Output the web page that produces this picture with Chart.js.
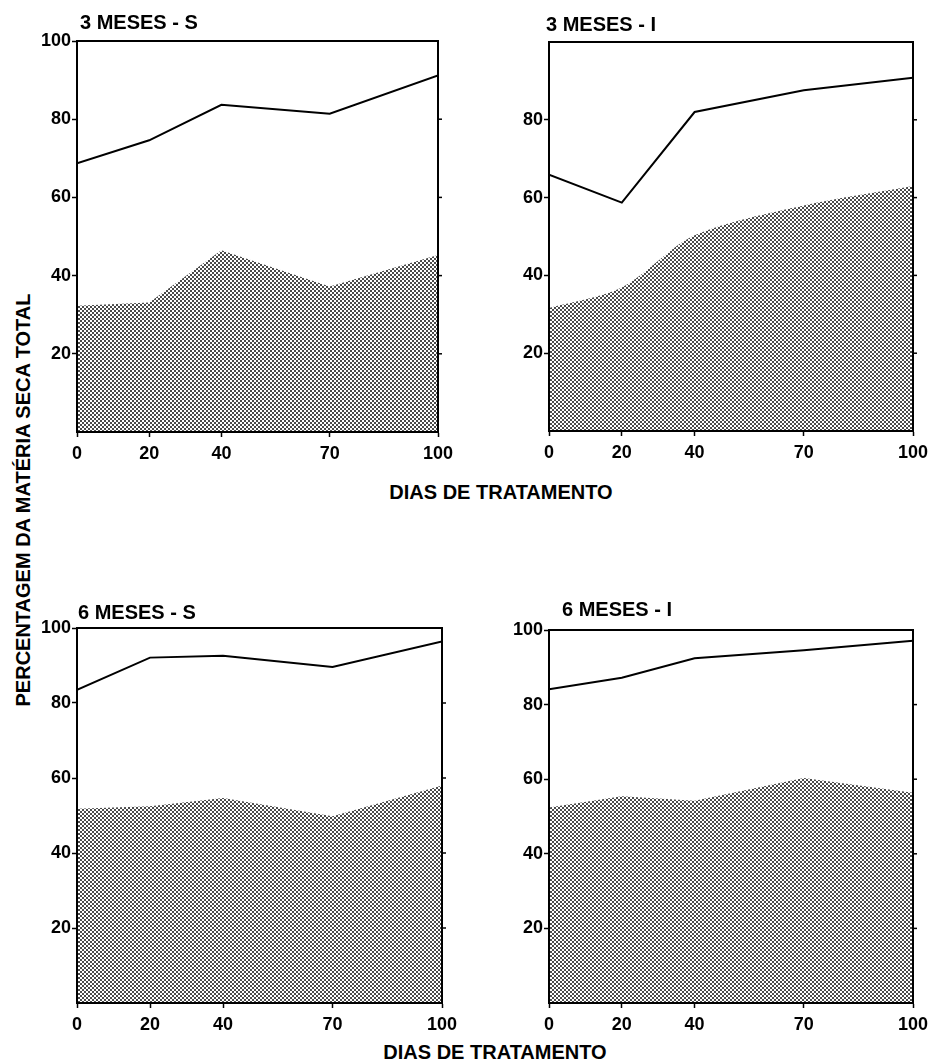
<!DOCTYPE html>
<html>
<head>
<meta charset="utf-8">
<script src="https://cdn.jsdelivr.net/npm/chart.js@4.4.0/dist/chart.umd.min.js"></script>
<style>
  html, body { margin: 0; padding: 0; background: #fff; }
  body { width: 929px; height: 1061px; position: relative; overflow: hidden;
         font-family: "Liberation Sans", Arial, sans-serif; }
  canvas { position: absolute; }
  .lbl { position: absolute; font-weight: bold; font-size: 20px; line-height: 20px;
         color: #000; white-space: nowrap; text-align: center; width: 500px; }
  #yTitle { left: -227px; top: 490px; transform: rotate(-90deg); }
</style>
</head>
<body>
<div class="lbl" id="yTitle">PERCENTAGEM DA MATÉRIA SECA TOTAL</div>
<div class="lbl" style="left:251px; top:482px;">DIAS DE TRATAMENTO</div>
<div class="lbl" style="left:245px; top:1042px;">DIAS DE TRATAMENTO</div>

<script>
// days of treatment and axis ticks
const days = [0, 20, 40, 70, 100];
const xTickValues = [0, 20, 40, 70, 100];
const yTickValues = [20, 40, 60, 80, 100];
const yTickValuesNoTop = [20, 40, 60, 80];

// % of total dry matter: upper line and shaded part, per age / treatment
const total3S = [68.7, 74.6, 83.7, 81.4, 91.2];
const part3S  = [32.3, 33.1, 46.5, 37.2, 45.3];
const total3I = [65.9, 58.7, 82.0, 87.6, 90.8];
const part3I  = [31.6, 36.9, 50.3, 58.0, 63.0];
const total6S = [83.5, 92.1, 92.6, 89.6, 96.4];
const part6S  = [51.8, 52.5, 54.7, 49.8, 58.0];
const total6I = [84.1, 87.2, 92.4, 94.6, 97.1];
const part6I  = [52.4, 55.4, 54.2, 60.3, 56.4];

const panelTitles = ['3 MESES - S', '3 MESES - I', '6 MESES - S', '6 MESES - I'];

const FONT = '"Liberation Sans", Arial, sans-serif';

// plot rectangles on the page: [left, top, width, height], title position
const panels = [
  { title: panelTitles[0], total: total3S, part: part3S, yTicks: yTickValues,      plot: [77, 41, 361, 391], titleAt: [80, 23] },
  { title: panelTitles[1], total: total3I, part: part3I, yTicks: yTickValuesNoTop, plot: [549, 42, 364, 389], titleAt: [546, 25], smooth: true },
  { title: panelTitles[2], total: total6S, part: part6S, yTicks: yTickValues,      plot: [77, 628, 365, 375], titleAt: [78, 613] },
  { title: panelTitles[3], total: total6I, part: part6I, yTicks: yTickValues,      plot: [549, 630, 364, 373], titleAt: [562, 610] }
];

const AXIS_W = 77, AXIS_H = 44, PAD_TOP = 41, PAD_RIGHT = 27;

// fine dot screen for the shaded area
function stipple() {
  const c = document.createElement('canvas');
  c.width = 4; c.height = 4;
  const g = c.getContext('2d');
  g.fillStyle = '#fff';
  g.fillRect(0, 0, 4, 4);
  g.fillStyle = '#4a4a4a';
  g.fillRect(0, 0, 2, 2);
  g.fillRect(2, 2, 2, 2);
  return g.createPattern(c, 'repeat');
}

// box around the plot, small ticks on the right edge, panel title
const framePlugin = {
  id: 'frame',
  afterDraw(chart, args, opts) {
    const { ctx, chartArea: a } = chart;
    const y = chart.scales.y;
    ctx.save();
    ctx.strokeStyle = '#000';
    ctx.lineWidth = 2;
    ctx.strokeRect(a.left, a.top, a.right - a.left, a.bottom - a.top);
    ctx.lineWidth = 1.5;
    opts.rightTicks.forEach(v => {
      const py = y.getPixelForValue(v);
      ctx.beginPath();
      ctx.moveTo(a.right, py);
      ctx.lineTo(a.right + 4, py);
      ctx.stroke();
    });
    ctx.fillStyle = '#000';
    ctx.font = 'bold 20px ' + FONT;
    ctx.textBaseline = 'middle';
    ctx.textAlign = 'left';
    ctx.fillText(opts.title, a.left + opts.dx, a.top + opts.dy);
    ctx.restore();
  }
};

panels.forEach(p => {
  const [left, top, w, h] = p.plot;
  const canvas = document.createElement('canvas');
  canvas.width = w + AXIS_W + PAD_RIGHT;
  canvas.height = h + PAD_TOP + AXIS_H;
  canvas.style.left = (left - AXIS_W) + 'px';
  canvas.style.top = (top - PAD_TOP) + 'px';
  document.body.appendChild(canvas);

  new Chart(canvas.getContext('2d'), {
    type: 'line',
    data: {
      datasets: [
        {
          data: days.map((d, i) => ({ x: d, y: p.total[i] })),
          borderColor: '#000',
          borderWidth: 2,
          pointRadius: 0,
          fill: false,
          tension: 0
        },
        {
          data: days.map((d, i) => ({ x: d, y: p.part[i] })),
          borderWidth: 0,
          borderColor: 'rgba(0,0,0,0)',
          backgroundColor: stipple(),
          pointRadius: 0,
          fill: 'origin',
          tension: p.smooth ? 0.3 : 0
        }
      ]
    },
    options: {
      responsive: false,
      animation: false,
      layout: { padding: { top: PAD_TOP, right: PAD_RIGHT, left: 0, bottom: 0 } },
      plugins: {
        legend: { display: false },
        tooltip: { enabled: false },
        frame: {
          title: p.title,
          dx: p.titleAt[0] - left,
          dy: p.titleAt[1] - top,
          rightTicks: yTickValuesNoTop
        }
      },
      scales: {
        x: {
          type: 'linear',
          min: 0,
          max: 100,
          afterBuildTicks: s => { s.ticks = xTickValues.map(v => ({ value: v })); },
          afterFit: s => { s.height = AXIS_H; },
          grid: { drawOnChartArea: false, drawTicks: true, tickLength: 5, tickWidth: 1.5, tickColor: '#000' },
          border: { display: true, color: '#000', width: 2 },
          ticks: { color: '#000', padding: 6, maxRotation: 0, font: { family: FONT, size: 18, weight: 'bold' } }
        },
        y: {
          min: 0,
          max: 100,
          afterBuildTicks: s => { s.ticks = p.yTicks.map(v => ({ value: v })); },
          afterFit: s => { s.width = AXIS_W; },
          grid: { drawOnChartArea: false, drawTicks: true, tickLength: 5, tickWidth: 1.5, tickColor: '#000' },
          border: { display: true, color: '#000', width: 2 },
          ticks: { color: '#000', padding: 1, font: { family: FONT, size: 18, weight: 'bold' } }
        }
      }
    },
    plugins: [framePlugin]
  });
});
</script>
</body>
</html>
